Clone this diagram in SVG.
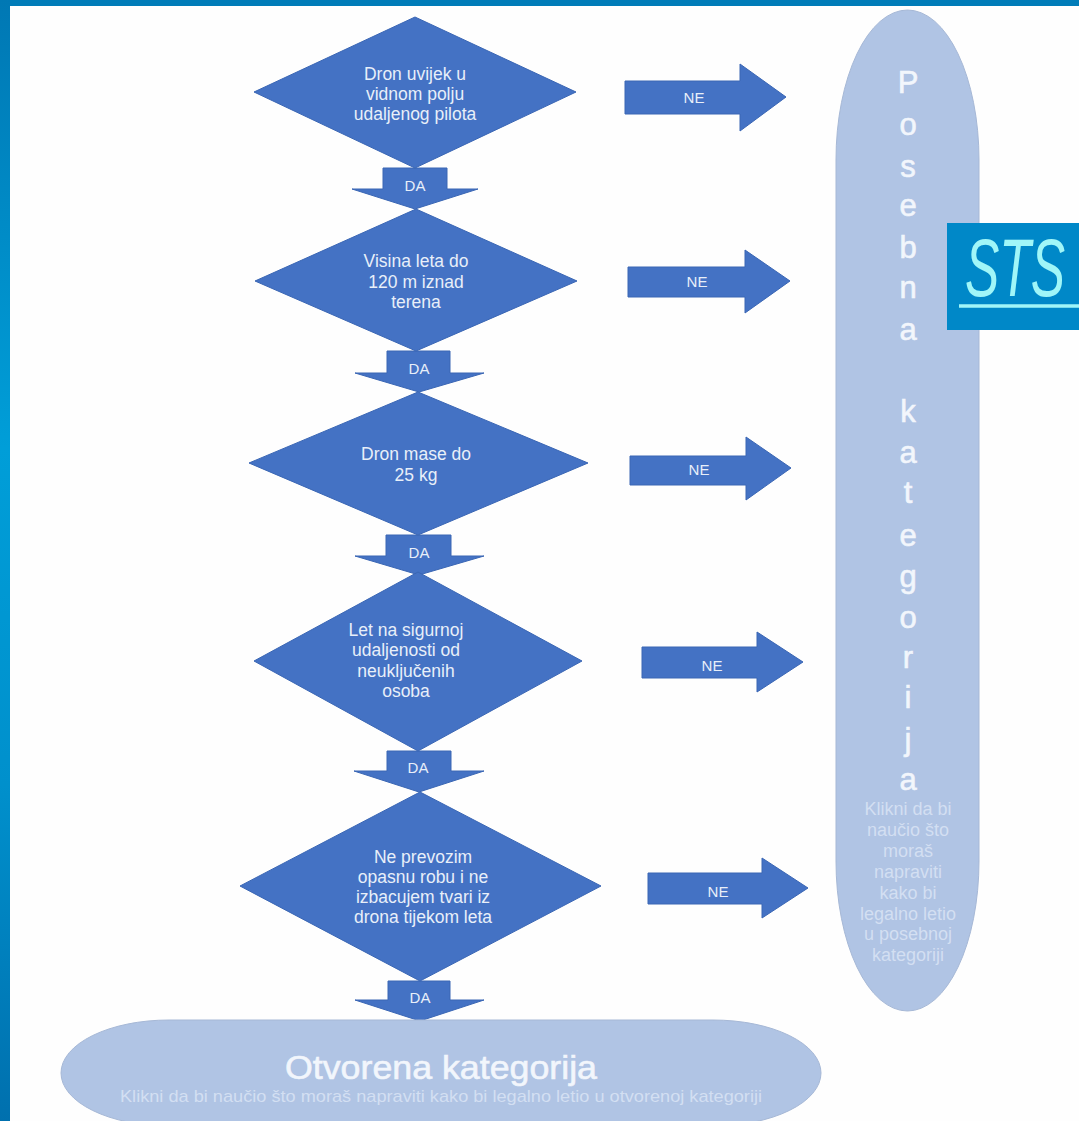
<svg xmlns="http://www.w3.org/2000/svg" width="1079" height="1121" viewBox="0 0 1079 1121">
<style>
.s{fill:#4472c4;stroke:#3a66b4;stroke-width:1}
.t{font-family:"Liberation Sans",Arial,sans-serif;text-anchor:middle;fill:#e8eff9;font-size:15px}
.d{font-size:17.5px}
.o{fill:#b0c4e4;stroke:#a6b8d6;stroke-width:1}
.b{font-family:"Liberation Sans",Arial,sans-serif;text-anchor:middle;fill:#f2f6fc;stroke:#f2f6fc;stroke-width:.6}
.f{font-family:"Liberation Sans",Arial,sans-serif;text-anchor:middle;fill:#d3dff2;font-size:18px}
</style>
<defs>
<linearGradient id="lb" x1="0" y1="0" x2="0" y2="1"><stop offset="0" stop-color="#0078b4"/><stop offset=".4" stop-color="#009ed8"/><stop offset=".7" stop-color="#0090cc"/><stop offset="1" stop-color="#0070ae"/></linearGradient>
</defs>
<rect id="background" width="1079" height="1121" fill="#fefefe"/>
<rect id="frame-top" width="1079" height="6" fill="#007cb8"/>
<rect id="frame-left" width="10" height="1121" fill="url(#lb)"/>
<g id="connectors">
<polygon class="s" points="383,168 447,168 447,189 478,189 415,209 352,189 383,189"/>
<polygon class="s" points="387,351 450,351 450,373 484,373 419,392 355,373 387,373"/>
<polygon class="s" points="386,535 451,535 451,556 484,556 419,575 355,556 386,556"/>
<polygon class="s" points="387,751 451,751 451,771 484,771 419,792 354,771 387,771"/>
<polygon class="s" points="388,981 450,981 450,1000 484,1000 420,1021 355,1000 388,1000"/>
<polygon class="s" points="625,81 740,81 740,64 786,97 740,131 740,114 625,114"/>
<polygon class="s" points="628,267 745,267 745,250 790,281 745,313 745,297 628,297"/>
<polygon class="s" points="630,456 746,456 746,437 791,468 746,500 746,485 630,485"/>
<polygon class="s" points="642,647 757,647 757,632 803,662 757,692 757,678 642,678"/>
<polygon class="s" points="648,873 762,873 762,858 808,888 762,918 762,904 648,904"/>
<text class="t" x="415" y="191">DA</text>
<text class="t" x="419" y="374">DA</text>
<text class="t" x="419" y="558">DA</text>
<text class="t" x="418" y="773">DA</text>
<text class="t" x="420" y="1003">DA</text>
<text class="t" x="694" y="103">NE</text>
<text class="t" x="697" y="287">NE</text>
<text class="t" x="699" y="475">NE</text>
<text class="t" x="712" y="671">NE</text>
<text class="t" x="718" y="897">NE</text>
</g>
<g id="node-1"><polygon class="s" points="415,17 576,92 415,168 254,92"/>
<text class="t d" x="415" y="80">Dron uvijek u</text><text class="t d" x="415" y="100">vidnom polju</text><text class="t d" x="415" y="120">udaljenog pilota</text></g>
<g id="node-2"><polygon class="s" points="416,209 577,281 416,351 255,281"/>
<text class="t d" x="416" y="267">Visina leta do</text><text class="t d" x="416" y="288">120 m iznad</text><text class="t d" x="416" y="308">terena</text></g>
<g id="node-3"><polygon class="s" points="418,392 588,463 418,535 249,463"/>
<text class="t d" x="416" y="460">Dron mase do</text><text class="t d" x="416" y="481">25 kg</text></g>
<g id="node-4"><polygon class="s" points="418,572 582,661 418,751 254,661"/>
<text class="t d" x="406" y="636">Let na sigurnoj</text><text class="t d" x="406" y="656">udaljenosti od</text><text class="t d" x="406" y="677">neuključenih</text><text class="t d" x="406" y="697">osoba</text></g>
<g id="node-5"><polygon class="s" points="420,792 601,886 420,981 240,886"/>
<text class="t d" x="423" y="863">Ne prevozim</text><text class="t d" x="423" y="883">opasnu robu i ne</text><text class="t d" x="423" y="903">izbacujem tvari iz</text><text class="t d" x="423" y="923">drona tijekom leta</text></g>
<g id="node-posebna"><rect class="o" x="836" y="10" width="143" height="1001" rx="71.5" ry="150"/>
<g class="b" font-size="31">
<text x="908" y="93">P</text><text x="908" y="135">o</text><text x="908" y="177">s</text><text x="908" y="216">e</text><text x="908" y="258">b</text><text x="908" y="298">n</text><text x="908" y="340">a</text><text x="908" y="422">k</text><text x="908" y="463">a</text><text x="908" y="503">t</text><text x="908" y="546">e</text><text x="908" y="587">g</text><text x="908" y="628">o</text><text x="908" y="668">r</text><text x="908" y="708">i</text><text x="908" y="750">j</text><text x="908" y="790">a</text>
</g>
<text class="f" x="908" y="815">Klikni da bi</text><text class="f" x="908" y="836">naučio što</text><text class="f" x="908" y="857">moraš</text><text class="f" x="908" y="878">napraviti</text><text class="f" x="908" y="899">kako bi</text><text class="f" x="908" y="920">legalno letio</text><text class="f" x="908" y="940">u posebnoj</text><text class="f" x="908" y="961">kategoriji</text></g>
<g id="node-otvorena"><rect class="o" x="61" y="1020" width="760" height="106" rx="108" ry="53"/>
<text class="b" x="441" y="1079" font-size="33" textLength="312" lengthAdjust="spacingAndGlyphs">Otvorena kategorija</text>
<text class="f" x="441" y="1102" style="font-size:17px" textLength="642" lengthAdjust="spacingAndGlyphs">Klikni da bi naučio što moraš napraviti kako bi legalno letio u otvorenoj kategoriji</text></g>
<g id="logo"><rect x="947" y="223" width="132" height="107" fill="#0088c8"/>
<text x="965" y="296" font-family="Liberation Sans,sans-serif" font-style="italic" font-size="82" fill="#a0f6f8" textLength="100" lengthAdjust="spacingAndGlyphs">STS</text>
<line x1="959" y1="306" x2="1079" y2="306" stroke="#a0f6f8" stroke-width="3.5"/></g>
</svg>
